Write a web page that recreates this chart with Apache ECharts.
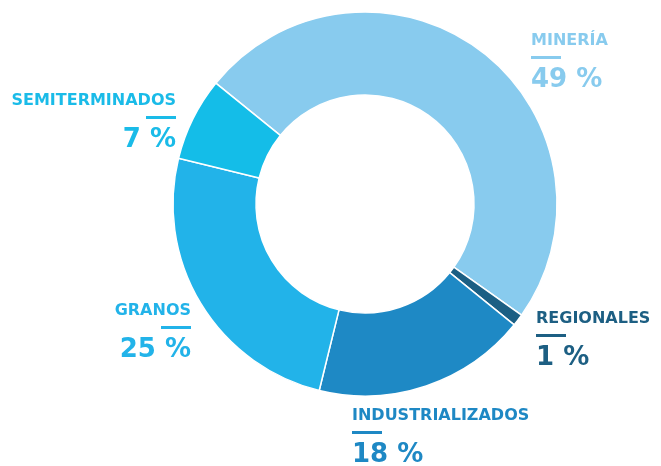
<!DOCTYPE html>
<html>
<head>
<meta charset="utf-8">
<script src="https://cdn.jsdelivr.net/npm/echarts@6/dist/echarts.min.js"></script>
<style>
  html, body { margin: 0; padding: 0; background: #fff; }
  #chart { width: 661px; height: 466px; }
</style>
</head>
<body>
<div id="chart"></div>
<script>
  var categories = ['MINERÍA', 'REGIONALES', 'INDUSTRIALIZADOS', 'GRANOS', 'SEMITERMINADOS'];
  var shares = [49, 1, 18, 25, 7];
  var sliceColors = ['#88cbee', '#1b5f84', '#1e89c5', '#22b3e9', '#14bde8'];
  var labelColors = ['#88cbee', '#1d5f83', '#1e88c4', '#22b3e9', '#1abbe8'];

  // where each label block sits (left/top corner or right/top corner)
  var labelSpots = [
    { x: 531, y: 32, align: 'left' },
    { x: 536, y: 310, align: 'left' },
    { x: 352, y: 407, align: 'left' },
    { x: 191, y: 302, align: 'right' },
    { x: 176, y: 92, align: 'right' }
  ];

  var chart = echarts.init(document.getElementById('chart'));

  var pieData = categories.map(function (name, i) {
    var c = labelColors[i];
    return {
      name: name,
      value: shares[i],
      itemStyle: { color: sliceColors[i] },
      label: {
        align: labelSpots[i].align,
        rich: {
          n: { fontSize: 16, fontWeight: 'bold', color: c, lineHeight: 18, fontFamily: 'DejaVu Sans' },
          l: { width: 30, height: 3, lineHeight: 15, backgroundColor: c },
          v: { fontSize: 26, fontWeight: 'bold', color: c, lineHeight: 30, fontFamily: 'DejaVu Sans' }
        }
      }
    };
  });

  chart.setOption({
    animation: false,
    series: [{
      type: 'pie',
      center: [365, 204],
      radius: [109, 192],
      startAngle: 141,
      clockwise: true,
      itemStyle: { borderColor: '#fff', borderWidth: 1.5 },
      label: {
        show: true,
        overflow: 'none',
        formatter: function (p) {
          return '{n|' + p.name + '}\n{l|}\n{v|' + p.value + ' %}';
        }
      },
      labelLine: { show: false },
      labelLayout: function (params) {
        var s = labelSpots[params.dataIndex];
        return { x: s.x, y: s.y, align: s.align, verticalAlign: 'top' };
      },
      emphasis: { disabled: true },
      data: pieData
    }]
  });
</script>
</body>
</html>
